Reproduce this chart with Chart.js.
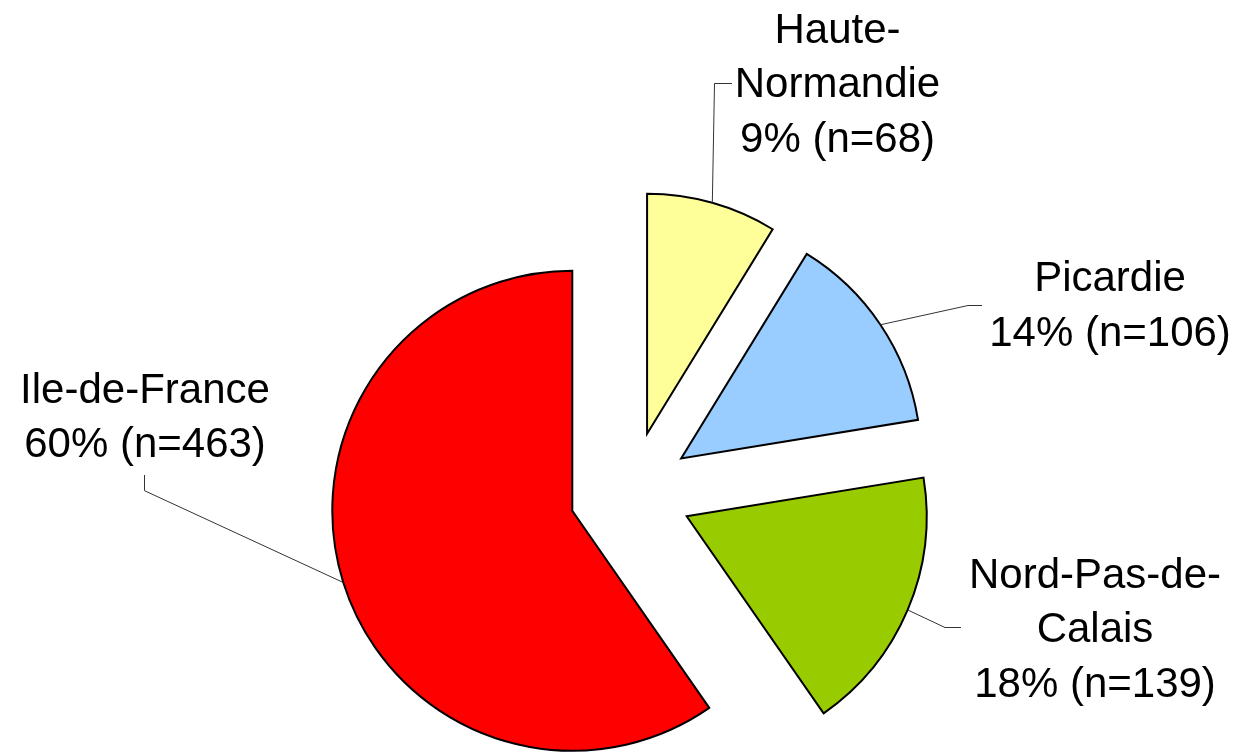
<!DOCTYPE html>
<html>
<head>
<meta charset="utf-8">
<script src="https://cdn.jsdelivr.net/npm/chart.js@4.4.1/dist/chart.umd.min.js"></script>
<style>
  html, body { margin: 0; padding: 0; background: #fff; }
  #wrap { width: 1242px; height: 754px; }
</style>
</head>
<body>
<div id="wrap"><canvas id="chart" width="1242" height="754"></canvas></div>
<script>
/* exploded pie — regions */

const regionLabels = [['Haute-', 'Normandie'], ['Picardie'], ['Nord-Pas-de-', 'Calais'], ['Ile-de-France']];
const counts = [68, 106, 139, 463];
const sliceColors = ['#ffff99', '#99ccff', '#99cc00', '#ff0000'];

const EXPLODE = 61;
const FONT = '42px "Liberation Sans", Arial, sans-serif';
const LINE_H = 54.5;

// label text centre / first baseline, leader elbow and end point
const labelLayout = [
  { tx: 837.5, ty: 42.7, elbow: [714.5, 83.5], end: [732, 83.5] },
  { tx: 1110, ty: 291, elbow: [968, 305.5], end: [982, 305.5] },
  { tx: 1095, ty: 587.7, elbow: [945, 627.5], end: [961, 627.5] },
  { tx: 145, ty: 402.7, elbow: [144.5, 490.7], end: [144.5, 475] },
];

// push every slice out along its middle angle
const explodePlugin = {
  id: 'explode',
  afterDatasetsUpdate(chart) {
    chart.getDatasetMeta(0).data.forEach(arc => {
      const mid = (arc.startAngle + arc.endAngle) / 2;
      arc.x += Math.cos(mid) * EXPLODE;
      arc.y += Math.sin(mid) * EXPLODE;
    });
  }
};

const labelPlugin = {
  id: 'sliceLabels',
  afterDatasetsDraw(chart) {
    const ctx = chart.ctx;
    const total = counts.reduce((a, b) => a + b, 0);
    chart.getDatasetMeta(0).data.forEach((arc, i) => {
      const lay = labelLayout[i];
      const mid = (arc.startAngle + arc.endAngle) / 2;
      const ax = arc.x + Math.cos(mid) * arc.outerRadius;
      const ay = arc.y + Math.sin(mid) * arc.outerRadius;
      ctx.save();
      ctx.strokeStyle = '#333';
      ctx.lineWidth = 1;
      ctx.beginPath();
      ctx.moveTo(ax, ay);
      ctx.lineTo(lay.elbow[0], lay.elbow[1]);
      ctx.lineTo(lay.end[0], lay.end[1]);
      ctx.stroke();

      const lines = regionLabels[i].concat([Math.round(counts[i] / total * 100) + '% (n=' + counts[i] + ')']);
      ctx.font = FONT;
      ctx.fillStyle = '#000';
      ctx.textAlign = 'center';
      ctx.textBaseline = 'alphabetic';
      lines.forEach((t, k) => ctx.fillText(t, lay.tx, lay.ty + k * LINE_H));
      ctx.restore();
    });
  }
};

new Chart(document.getElementById('chart'), {
  type: 'pie',
  data: {
    labels: regionLabels,
    datasets: [{
      data: counts,
      backgroundColor: sliceColors,
      borderColor: '#000',
      borderWidth: 2,
      borderJoinStyle: 'miter',
      radius: 240,
    }]
  },
  options: {
    responsive: false,
    animation: false,
    layout: { padding: { left: 19, right: 0, top: 231, bottom: 0 } },
    plugins: {
      legend: { display: false },
      tooltip: { enabled: false },
    }
  },
  plugins: [explodePlugin, labelPlugin]
});
</script>
</body>
</html>
